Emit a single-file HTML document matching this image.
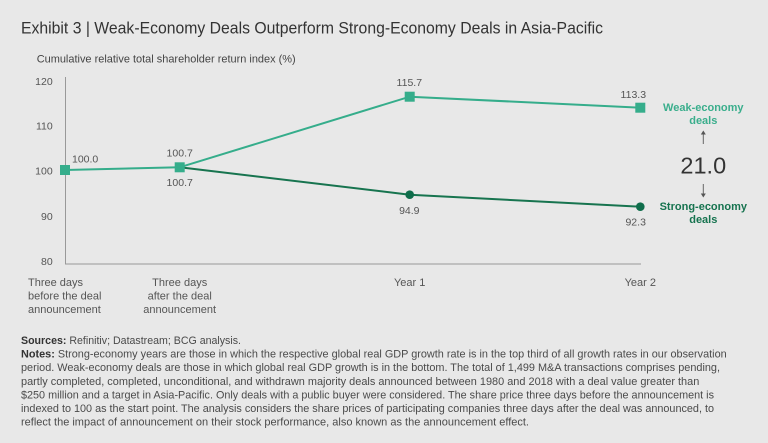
<!DOCTYPE html>
<html><head><meta charset="utf-8"><style>
html,body{margin:0;padding:0;background:#e8e8e8;}
svg{display:block;}
text{font-family:"Liberation Sans",sans-serif;}
</style></head><body>
<svg width="768" height="443" viewBox="0 0 768 443" xmlns="http://www.w3.org/2000/svg">
<rect width="768" height="443" fill="#e8e8e8"/>
<text x="21" y="33.3" font-size="16.5" fill="#333" textLength="582" lengthAdjust="spacingAndGlyphs">Exhibit 3 | Weak-Economy Deals Outperform Strong-Economy Deals in Asia-Pacific</text>
<text x="36.7" y="62.3" font-size="11" fill="#444" textLength="259" lengthAdjust="spacingAndGlyphs">Cumulative relative total shareholder return index (%)</text>

<g font-size="10.5" fill="#555" text-anchor="end">
<text x="52.7" y="84.8">120</text>
<text x="52.7" y="129.5">110</text>
<text x="52.7" y="174.3">100</text>
<text x="52.7" y="219.8">90</text>
<text x="52.7" y="264.8">80</text>
</g>
<line x1="65.5" y1="77" x2="65.5" y2="264" stroke="#999" stroke-width="1"/>
<line x1="65" y1="264" x2="641" y2="264" stroke="#999" stroke-width="1"/>

<g font-size="11" fill="#555">
<text x="28" y="286">Three days</text>
<text x="28" y="299.5">before the deal</text>
<text x="28" y="313">announcement</text>
<g text-anchor="middle">
<text x="179.7" y="286">Three days</text>
<text x="179.7" y="299.5">after the deal</text>
<text x="179.7" y="313">announcement</text>
<text x="409.7" y="286">Year 1</text>
<text x="640.3" y="286">Year 2</text>
</g>
</g>

<polyline points="179.7,167.3 409.7,194.7 640.3,206.7" fill="none" stroke="#17744f" stroke-width="2"/>
<polyline points="65,170 179.7,167.3 409.7,96.7 640.3,107.7" fill="none" stroke="#35ad8b" stroke-width="2"/>
<circle cx="409.7" cy="194.7" r="4.3" fill="#0f6d4b"/>
<circle cx="640.3" cy="206.7" r="4.3" fill="#0f6d4b"/>
<rect x="60" y="165" width="10" height="10" fill="#35ad8b"/>
<rect x="174.7" y="162.3" width="10" height="10" fill="#35ad8b"/>
<rect x="404.7" y="91.7" width="10" height="10" fill="#35ad8b"/>
<rect x="635.3" y="102.7" width="10" height="10" fill="#35ad8b"/>

<g font-size="10.5" fill="#555">
<text x="72" y="162.5">100.0</text>
<g text-anchor="middle">
<text x="179.7" y="156.5">100.7</text>
<text x="179.7" y="186.1">100.7</text>
<text x="409.3" y="86.1">115.7</text>
<text x="633.3" y="98.1">113.3</text>
<text x="409.3" y="213.8">94.9</text>
<text x="635.7" y="225.5">92.3</text>
</g>
</g>

<g font-size="11" font-weight="bold" text-anchor="middle">
<text x="703.3" y="110.9" fill="#3aae8c">Weak-economy</text>
<text x="703.3" y="124.2" fill="#3aae8c">deals</text>
<text x="703.3" y="210.2" fill="#16734f">Strong-economy</text>
<text x="703.3" y="223.2" fill="#16734f">deals</text>
</g>
<line x1="703.3" y1="133" x2="703.3" y2="144" stroke="#666" stroke-width="1"/>
<path d="M700.8,134.5 L703.3,130.5 L705.8,134.5 Z" fill="#555"/>
<line x1="703.3" y1="184" x2="703.3" y2="195" stroke="#666" stroke-width="1"/>
<path d="M700.8,193.5 L703.3,197.5 L705.8,193.5 Z" fill="#555"/>
<text x="703.3" y="173.6" font-size="23.5" fill="#333" text-anchor="middle">21.0</text>

<g font-size="11" fill="#4a4a4a">
<text x="21" y="343.9" textLength="220" lengthAdjust="spacingAndGlyphs"><tspan font-weight="bold" fill="#333">Sources:</tspan> Refinitiv; Datastream; BCG analysis.</text>
<text x="21" y="357.5" textLength="705.7" lengthAdjust="spacingAndGlyphs"><tspan font-weight="bold" fill="#333">Notes:</tspan> Strong-economy years are those in which the respective global real GDP growth rate is in the top third of all growth rates in our observation</text>
<text x="21" y="371.1" textLength="699" lengthAdjust="spacingAndGlyphs">period. Weak-economy deals are those in which global real GDP growth is in the bottom. The total of 1,499 M&amp;A transactions comprises pending,</text>
<text x="21" y="384.8" textLength="678.3" lengthAdjust="spacingAndGlyphs">partly completed, completed, unconditional, and withdrawn majority deals announced between 1980 and 2018 with a deal value greater than</text>
<text x="21" y="398.4" textLength="693" lengthAdjust="spacingAndGlyphs">$250 million and a target in Asia-Pacific. Only deals with a public buyer were considered. The share price three days before the announcement is</text>
<text x="21" y="412" textLength="693" lengthAdjust="spacingAndGlyphs">indexed to 100 as the start point. The analysis considers the share prices of participating companies three days after the deal was announced, to</text>
<text x="21" y="425.7" textLength="508" lengthAdjust="spacingAndGlyphs">reflect the impact of announcement on their stock performance, also known as the announcement effect.</text>
</g>
</svg>
</body></html>
